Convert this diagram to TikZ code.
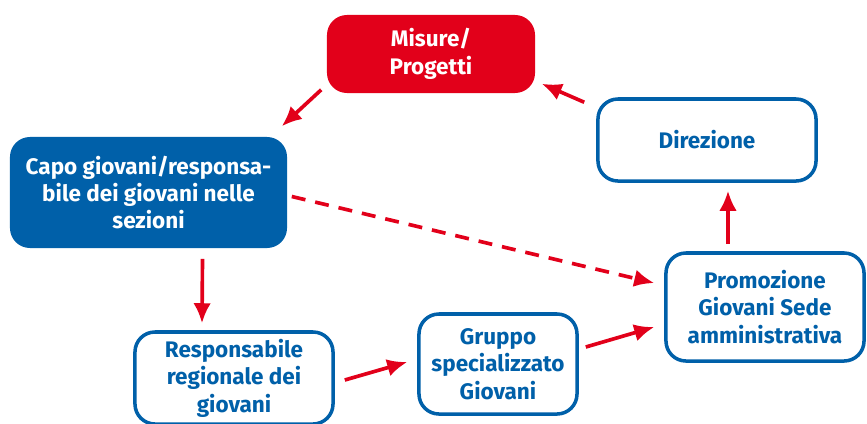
\documentclass[tikz,border=0pt]{standalone}
\usepackage{fontspec}
\setmainfont{Fira Sans}
\usetikzlibrary{calc,arrows.meta,positioning}
\definecolor{sbblue}{HTML}{0060A9}
\definecolor{sbred}{HTML}{E2001A}
\tikzset{
	every picture/.style={
		>={Latex[length=5mm,width=4.4mm]}
}}
\tikzset{box/.style={rectangle,rounded corners=5mm,line width=2.5pt,
		align=center,inner sep=2pt,
		font=\bfseries\fontsize{16}{19.5}\selectfont}}
\tikzset{bluebox/.style={box,draw=sbblue,fill=white,text=sbblue}}
\tikzset{fullblue/.style={box,fill=sbblue,text=white}}
\tikzset{fullred/.style={box,fill=sbred,text=white}}
\tikzset{arr/.style={->,draw=sbred,line width=2.6pt}}

\begin{document}
\begin{tikzpicture}[x=0.025cm,y=-0.025cm]
\useasboundingbox (0,0) rectangle (867,423);
% caselle
\node[fullred,minimum width=5.2cm,minimum height=1.95cm] (misure) at (431,54) {Misure/\\Progetti};
\node[bluebox,minimum width=5.45cm,minimum height=2.05cm] (direzione) at (707,140) {Direzione};
\node[fullblue,minimum width=6.925cm,minimum height=2.775cm] (capo) at (148.5,192.5)
	{Capo giovani/responsa-\\bile dei giovani nelle\\sezioni};
\node[bluebox,minimum width=4.95cm,minimum height=2.7cm] (promo) at (765,307)
	{Promozione\\Giovani Sede\\amministrativa};
\node[bluebox,minimum width=4.95cm,minimum height=2.3cm] (resp) at (234,378)
	{Responsabile\\regionale dei\\giovani};
\node[bluebox,minimum width=3.95cm,minimum height=2.5cm] (gruppo) at (498,364)
	{Gruppo\\specializzato\\Giovani};
% frecce
\draw[arr] ($(misure.south west)+(-4,-5)$) -- ($(capo.north east)+(-7,-9)$);
\draw[arr] ($(direzione.north west)+(-12,5)$) -- ($(misure.south east)+(5,-11)$);
\draw[arr,dash pattern=on 0.35cm off 0.25cm] ($(capo.east)+(3,4)$) -- ($(promo.west)+(-10,-24)$);
\draw[arr] ($(capo.south)+(54,9)$) -- ($(resp.north)+(-32,-7)$);
\draw[arr] ($(resp.east)+(10,2)$) -- ($(gruppo.west)+(-10,-2)$);
\draw[arr] ($(gruppo.east)+(7,-17)$) -- ($(promo.west)+(-10,20)$);
\draw[arr] ($(promo.north)+(-37,-7)$) -- ($(direzione.south)+(21,8)$);
\end{tikzpicture}
\end{document}
